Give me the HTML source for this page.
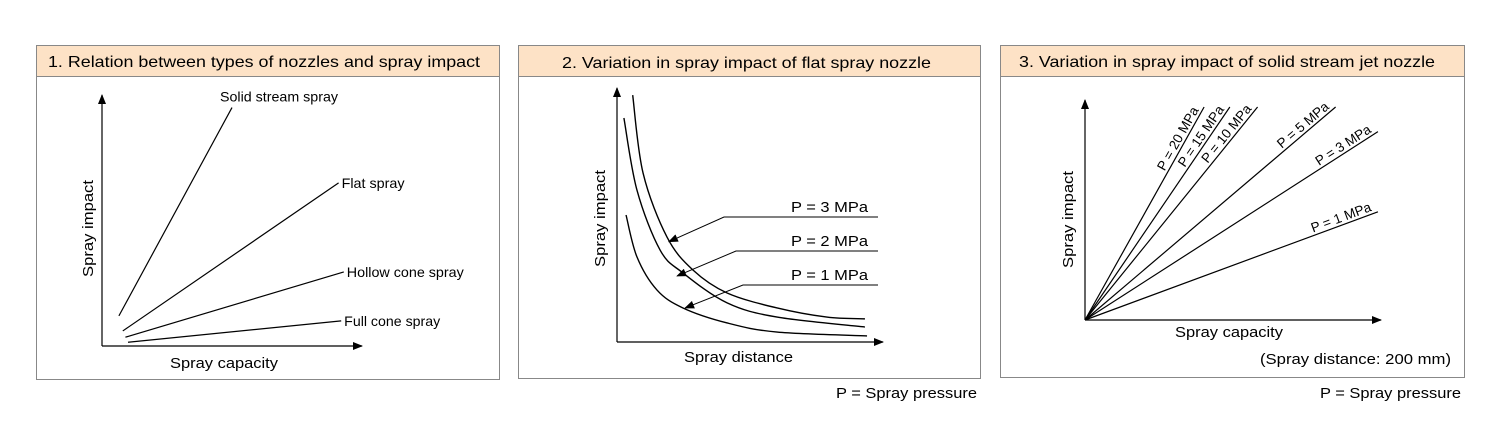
<!DOCTYPE html>
<html><head><meta charset="utf-8">
<style>
html,body{margin:0;padding:0;background:#fff;}
svg{display:block;font-family:"Liberation Sans",Arial,sans-serif;}
</style></head>
<body>
<svg id="fig" width="1500" height="435" viewBox="0 0 1500 435" xmlns="http://www.w3.org/2000/svg">
<defs>
<marker id="ah" markerWidth="10" markerHeight="8" refX="9" refY="4" orient="auto" markerUnits="userSpaceOnUse">
<path d="M0,0 L10,4 L0,8 z" fill="#000"/>
</marker>
</defs>
<!-- Panel 1 -->
<g>
<rect x="36.5" y="45.5" width="463" height="334" fill="#fff" stroke="#888"/>
<rect x="36.5" y="45.5" width="463" height="31" fill="#fde2c6" stroke="#888"/>
<text x="48" y="67" font-size="16" textLength="432" lengthAdjust="spacingAndGlyphs">1. Relation between types of nozzles and spray impact</text>
<line x1="102" y1="346" x2="102" y2="95" stroke="#000" stroke-width="1.2" marker-end="url(#ah)"/>
<line x1="102" y1="346" x2="362" y2="346" stroke="#000" stroke-width="1.2" marker-end="url(#ah)"/>
<text x="170" y="368" font-size="15" textLength="108" lengthAdjust="spacingAndGlyphs">Spray capacity</text>
<text transform="translate(93,277) rotate(-90)" font-size="15" textLength="97" lengthAdjust="spacingAndGlyphs">Spray impact</text>
<g id="p1lines"></g>
</g>
<!-- Panel 2 -->
<g>
<rect x="518.5" y="45.5" width="462" height="333" fill="#fff" stroke="#888"/>
<rect x="518.5" y="45.5" width="462" height="31" fill="#fde2c6" stroke="#888"/>
<text x="562" y="68" font-size="16" textLength="369" lengthAdjust="spacingAndGlyphs">2. Variation in spray impact of flat spray nozzle</text>
<line x1="617" y1="342" x2="617" y2="88" stroke="#000" stroke-width="1.2" marker-end="url(#ah)"/>
<line x1="617" y1="342" x2="883" y2="342" stroke="#000" stroke-width="1.2" marker-end="url(#ah)"/>
<text x="684" y="362" font-size="15" textLength="109" lengthAdjust="spacingAndGlyphs">Spray distance</text>
<text transform="translate(605,267) rotate(-90)" font-size="15" textLength="97" lengthAdjust="spacingAndGlyphs">Spray impact</text>
<text x="836" y="398" font-size="15" textLength="141" lengthAdjust="spacingAndGlyphs">P = Spray pressure</text>
<g id="p2lines"></g>
</g>
<!-- Panel 3 -->
<g>
<rect x="1000.5" y="45.5" width="464" height="332" fill="#fff" stroke="#888"/>
<rect x="1000.5" y="45.5" width="464" height="31" fill="#fde2c6" stroke="#888"/>
<text x="1019" y="67" font-size="16" textLength="416" lengthAdjust="spacingAndGlyphs">3. Variation in spray impact of solid stream jet nozzle</text>
<line x1="1085" y1="320" x2="1085" y2="100" stroke="#000" stroke-width="1.2" marker-end="url(#ah)"/>
<line x1="1085" y1="320" x2="1381" y2="320" stroke="#000" stroke-width="1.2" marker-end="url(#ah)"/>
<text x="1175" y="337" font-size="15" textLength="108" lengthAdjust="spacingAndGlyphs">Spray capacity</text>
<text transform="translate(1073,268) rotate(-90)" font-size="15" textLength="97" lengthAdjust="spacingAndGlyphs">Spray impact</text>
<text x="1260" y="364" font-size="15" textLength="191" lengthAdjust="spacingAndGlyphs">(Spray distance: 200 mm)</text>
<text x="1320" y="398" font-size="15" textLength="141" lengthAdjust="spacingAndGlyphs">P = Spray pressure</text>
<g id="p3lines"></g>
</g>
</svg>
<script>
// Panel 1 data (capacity 0..100, impact 0..100)
const p1Names = ["Solid stream spray","Flat spray","Hollow cone spray","Full cone spray"];
const p1Start = [[6.5,12],[8,6],[9,3.5],[10,1.5]];
const p1End = [[50,95],[91,65],[93,29.5],[92,10]];
const p1LabelWidths = [118,63,117,96];
// Panel 2 data
const p2Labels = ["P = 3 MPa","P = 2 MPa","P = 1 MPa"];
const p2Dist = [[5.9,9.8,18.8,28.6,41.4,60.2,78.9,93.2],[2.6,7.5,16.2,24.8,41.4,60.2,93.2],[3.4,7.5,15.0,24.8,41.4,60.2,94.0]];
const p2Impact = [[97.2,66.5,41.3,28.3,19.3,13.4,9.8,9.1],[88.2,59.8,36.2,27.2,15.4,9.8,5.9],[50.0,33.5,20.5,13.4,7.5,3.9,2.4]];
const p2ArrowAt = [[19.5,39.5],[22.6,26.0],[25.6,13.4]];
// Panel 3 data
const p3Labels = ["P = 20 MPa","P = 15 MPa","P = 10 MPa","P = 5 MPa","P = 3 MPa","P = 1 MPa"];
const p3Slope = [2.42,1.99,1.67,1.15,0.87,0.50];
const p3MaxImpact = 97.7;
const p3MaxCap = 99.3;

const NS="http://www.w3.org/2000/svg";
function mk(tag,attrs,parent){const e=document.createElementNS(NS,tag);for(const k in attrs)e.setAttribute(k,attrs[k]);parent.appendChild(e);return e;}

// Panel 1
const x1=v=>102+v*2.6, y1=v=>346-v*2.51;
const g1=document.getElementById('p1lines');
p1Names.forEach((n,i)=>{
  const l=mk('line',{x1:x1(p1Start[i][0]),y1:y1(p1Start[i][1]),x2:x1(p1End[i][0]),y2:y1(p1End[i][1]),stroke:'#000','stroke-width':1.2},g1);
  
  
  const isTop=i===0;
  const t=mk('text',{x:isTop?x1(p1End[i][0])-12:x1(p1End[i][0])+3,y:isTop?y1(p1End[i][1])-6:y1(p1End[i][1])+5,'font-size':14,textLength:p1LabelWidths[i],lengthAdjust:'spacingAndGlyphs'},g1);
  t.textContent=n;
  
  
});

// Panel 2
const x2=v=>617+v*2.66, y2=v=>342-v*2.54;
const g2=document.getElementById('p2lines');
function smooth(pts){let d=`M${pts[0][0]},${pts[0][1]}`;for(let i=0;i<pts.length-1;i++){const p0=pts[i-1]||pts[i],p1=pts[i],p2=pts[i+1],p3=pts[i+2]||p2;const c1=[p1[0]+(p2[0]-p0[0])/6,p1[1]+(p2[1]-p0[1])/6],c2=[p2[0]-(p3[0]-p1[0])/6,p2[1]-(p3[1]-p1[1])/6];d+=` C${c1[0]},${c1[1]} ${c2[0]},${c2[1]} ${p2[0]},${p2[1]}`;}return d;}
const leaderY=[217,251,285], leaderX=[724,736,743];
p2Labels.forEach((lab,i)=>{
  const pts=p2Dist[i].map((d,j)=>[x2(d),y2(p2Impact[i][j])]);
  const c=mk('path',{d:smooth(pts),fill:'none',stroke:'#000','stroke-width':1.4},g2);
  
  
  const ld=mk('polyline',{points:`878,${leaderY[i]} ${leaderX[i]},${leaderY[i]} ${x2(p2ArrowAt[i][0])},${y2(p2ArrowAt[i][1])}`,fill:'none',stroke:'#000','stroke-width':1,'marker-end':'url(#ah)'},g2);
  
  
  const t=mk('text',{x:791,y:leaderY[i]-5,'font-size':15,textLength:77,lengthAdjust:'spacingAndGlyphs'},g2);
  t.textContent=lab;
  
  
});

// Panel 3
const x3=v=>1085+v*2.95, y3=v=>320-v*2.18;
const g3=document.getElementById('p3lines');
p3Labels.forEach((lab,i)=>{
  const cap=Math.min(p3MaxCap,p3MaxImpact/p3Slope[i]);
  const ex=x3(cap), ey=y3(cap*p3Slope[i]);
  const l=mk('line',{x1:x3(0),y1:y3(0),x2:ex,y2:ey,stroke:'#000','stroke-width':1.2},g3);
  
  
  const dx=ex-x3(0), dy=ey-y3(0), len=Math.hypot(dx,dy);
  const ux=dx/len, uy=dy/len;
  const ang=Math.atan2(dy,dx)*180/Math.PI;
  const tx=ex-ux*5+uy*3, ty=ey-uy*5-ux*3;
  const t=mk('text',{transform:`translate(${tx},${ty}) rotate(${ang})`,'font-size':13.5,'text-anchor':'end'},g3);
  t.textContent=lab;
  
  
});
</script>
</body></html>
